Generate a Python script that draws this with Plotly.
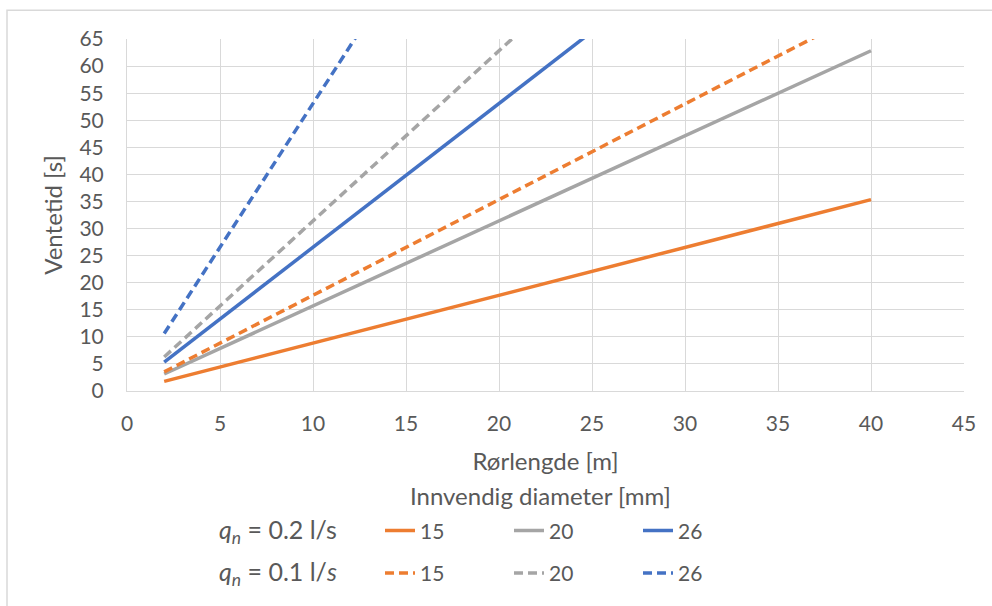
import plotly.graph_objects as go

# Pipe length [m]
rorlengde = [2, 10, 20, 30, 40]

# Waiting time [s], q_n = 0.2 l/s
t_02_15 = [1.77, 8.84, 17.67, 26.51, 35.34]
t_02_20 = [3.14, 15.71, 31.42, 47.12, 62.83]
t_02_26 = [5.31, 26.55, 53.09, 79.64, 106.19]

# Waiting time [s], q_n = 0.1 l/s
t_01_15 = [3.53, 17.67, 35.34, 53.01, 70.69]
t_01_20 = [6.28, 31.42, 62.83, 94.25, 125.66]
t_01_26 = [10.62, 53.09, 106.19, 159.28, 212.37]

diameters = ["15", "20", "26"]
colors = ["#ED7D31", "#A5A5A5", "#4472C4"]
row_labels = ["<i>q<sub>n</sub></i> = 0.2 l/s", "<i>q<sub>n</sub></i> = 0.1 l/<i>s</i>"]

x_ticks = [0, 5, 10, 15, 20, 25, 30, 35, 40, 45]
y_ticks = [0, 5, 10, 15, 20, 25, 30, 35, 40, 45, 50, 55, 60, 65]

FONT = "Lato"
TXT = "#595959"

fig = go.Figure()

for d, c, y in zip(diameters, colors, [t_02_15, t_02_20, t_02_26]):
    fig.add_trace(go.Scatter(x=rorlengde, y=y, mode="lines", name=d,
                             line=dict(color=c, width=3.5), legend="legend"))
for d, c, y in zip(diameters, colors, [t_01_15, t_01_20, t_01_26]):
    fig.add_trace(go.Scatter(x=rorlengde, y=y, mode="lines", name=d,
                             line=dict(color=c, width=3.5, dash="9px,5px"), legend="legend2"))

W, H = 992, 606
L, R, T, B = 127, 28, 39, 212
pw, ph = W - L - R, H - T - B

def px_x(p):
    return (p - L) / pw

def px_y(p):
    return (H - B - p) / ph

legend_common = dict(
    orientation="h", xanchor="left", yanchor="middle",
    font=dict(family=FONT, size=21, color=TXT),
    bgcolor="rgba(0,0,0,0)", entrywidth=84, entrywidthmode="pixels",
    tracegroupgap=0, itemwidth=30,
)

row_y = [535, 578]

fig.update_layout(
    width=W, height=H,
    margin=dict(l=L, r=R, t=T, b=B),
    paper_bgcolor="white", plot_bgcolor="white",
    font=dict(family=FONT, size=21, color=TXT),
    xaxis=dict(range=[0, 45], tickvals=x_ticks, showgrid=True, gridcolor="#D9D9D9",
               gridwidth=1, zeroline=False, showline=True, linecolor="#D9D9D9",
               linewidth=1, ticks="", ticklabelstandoff=14,
               tickfont=dict(family=FONT, size=21, color=TXT),
               title=dict(text="Rørlengde [m]", font=dict(family=FONT, size=24, color=TXT),
                          standoff=18)),
    yaxis=dict(range=[0, 65], tickvals=y_ticks, showgrid=True, gridcolor="#D9D9D9",
               gridwidth=1, zeroline=False, showline=True, linecolor="#D9D9D9",
               linewidth=1, ticks="", ticklabelstandoff=18,
               tickfont=dict(family=FONT, size=21, color=TXT),
               title=dict(text="Ventetid [s]", font=dict(family=FONT, size=24, color=TXT),
                          standoff=10)),
    legend=dict(x=px_x(380), y=px_y(row_y[0]), **legend_common),
    legend2=dict(x=px_x(380), y=px_y(row_y[1]), **legend_common),
    annotations=[dict(text="Innvendig diameter [mm]", xref="paper", yref="paper",
                      x=px_x(540), y=px_y(499), xanchor="center", yanchor="middle",
                      showarrow=False, font=dict(family=FONT, size=24, color=TXT))]
    + [dict(text=lbl, xref="paper", yref="paper", x=px_x(217), y=px_y(ry),
            xanchor="left", yanchor="middle", showarrow=False,
            font=dict(family=FONT, size=25, color=TXT))
       for lbl, ry in zip(row_labels, row_y)],
    shapes=[dict(type="rect", xref="paper", yref="paper",
                 x0=px_x(7), x1=px_x(1100), y0=px_y(10), y1=px_y(700),
                 line=dict(color="#D9D9D9", width=1.5), fillcolor="rgba(0,0,0,0)",
                 layer="below")],
)

fig.write_html("out.html")
